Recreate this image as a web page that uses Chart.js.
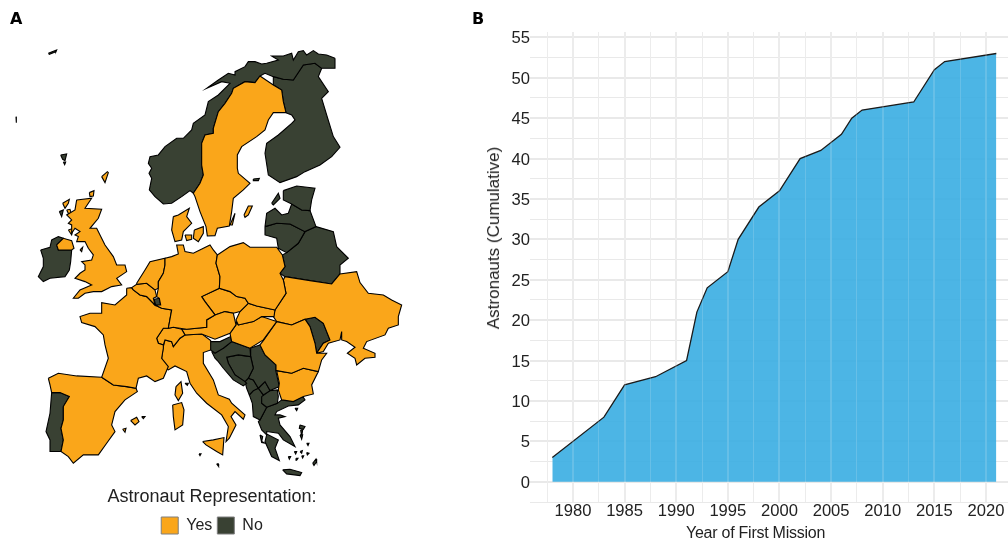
<!DOCTYPE html>
<html>
<head>
<meta charset="utf-8">
<script src="https://cdn.jsdelivr.net/npm/chart.js@4"></script>
<style>
  html, body { margin: 0; padding: 0; background: #fff; overflow: hidden; }
  body { width: 1008px; height: 542px; position: relative; font-family: "Liberation Sans", sans-serif; }
  canvas { position: absolute; top: 0; }
  #mapChart { left: 0; }
  #areaChart { left: 470px; }
  .tag { position: absolute; top: 9px; font: bold 16px "DejaVu Sans", sans-serif; color: #000; }
  .axis-title { position: absolute; color: #222; white-space: nowrap; }
  #xTitle { left: 686px; top: 524px; font-size: 16px; letter-spacing: -0.25px; }
  #yTitle { left: 494px; top: 238px; font-size: 17px; transform: translate(-50%, -50%) rotate(-90deg); }
</style>
</head>
<body>
<canvas id="mapChart" width="424" height="544"></canvas>
<canvas id="areaChart" width="538" height="542"></canvas>
<div class="tag" style="left:10px">A</div>
<div class="tag" style="left:472px">B</div>
<div class="axis-title" id="xTitle">Year of First Mission</div>
<div class="axis-title" id="yTitle">Astronauts (Cumulative)</div>
<script>
// cumulative astronauts by year of first mission
const years = [1978, 1983, 1985, 1988, 1991, 1992, 1993, 1995, 1996, 1998, 2000, 2002, 2004, 2006, 2007, 2008, 2013, 2015, 2016, 2021];
const astronauts = [3, 8, 12, 13, 15, 21, 24, 26, 30, 34, 36, 40, 41, 43, 45, 46, 47, 51, 52, 53];
const yearTicks = [1980, 1985, 1990, 1995, 2000, 2005, 2010, 2015, 2020];
const countTicks = [0, 5, 10, 15, 20, 25, 30, 35, 40, 45, 50, 55];

const legendTitle = "Astronaut Representation:";
const legendLabels = ["Yes", "No"];

// country outlines in map units, countries with astronauts
const sweden = [[780,228],[820,255],[845,270],[850,305],[858,338],[820,338],[805,360],[795,390],[770,410],[725,440],[712,465],[712,505],[715,520],[750,550],[730,570],[700,595],[695,635],[688,678],[652,685],[645,707],[622,708],[618,680],[600,635],[585,590],[580,580],[600,550],[610,525],[605,495],[605,430],[615,405],[640,400],[640,385],[655,335],[675,310],[695,280],[700,265],[735,245],[765,248]];
const gotland = [[732,645],[745,618],[757,618],[745,645],[735,652]];
const oland = [[690,675],[705,640],[697,675]];
const poland = [[652,765],[690,740],[730,728],[750,742],[830,742],[847,765],[855,800],[840,820],[850,840],[858,880],[825,930],[770,918],[745,910],[735,895],[710,890],[690,875],[658,865],[660,830],[648,790]];
const germany = [[495,775],[515,770],[535,762],[530,735],[550,735],[555,755],[580,760],[610,745],[630,735],[640,750],[652,765],[648,790],[660,830],[658,865],[605,890],[615,905],[645,945],[620,960],[620,982],[560,988],[520,982],[505,985],[515,930],[485,925],[465,915],[482,915],[478,895],[470,890],[475,865],[475,845],[490,820],[495,795]];
const netherlands = [[410,850],[435,810],[450,785],[495,775],[495,795],[490,820],[475,845],[475,865],[465,870],[440,850],[410,853]];
const belgium = [[395,863],[410,853],[440,850],[465,870],[470,890],[460,895],[465,915],[440,890],[420,885],[400,870]];
const jutland = [[520,650],[535,645],[568,625],[560,650],[575,670],[550,695],[545,720],[525,725],[515,690]];
const zealand = [[583,690],[610,680],[610,700],[595,725],[580,715]];
const fyn = [[555,705],[575,705],[575,718],[560,722]];
const britain = [[230,600],[275,595],[255,625],[305,628],[295,655],[270,685],[290,685],[315,735],[340,770],[350,795],[375,795],[380,815],[350,835],[365,855],[335,860],[305,875],[280,875],[255,880],[235,895],[220,895],[240,870],[275,855],[255,845],[225,835],[240,820],[255,810],[255,795],[245,785],[275,780],[280,765],[265,745],[255,725],[230,725],[235,710],[225,705],[240,695],[225,685],[215,700],[215,675],[205,670],[215,660],[200,645],[225,630]];
const northernIreland = [[170,735],[190,715],[215,722],[222,745],[215,750],[175,750]];
const hebrides = [[188,610],[208,598],[205,610],[195,625]];
const skye = [[200,630],[210,628],[215,645],[205,640]];
const mull = [[205,690],[220,685],[215,705]];
const orkney = [[268,578],[282,572],[280,588],[270,590]];
const shetland = [[305,530],[322,515],[325,518],[315,548]];
const isleOfMan = [[240,750],[248,742],[245,755]];
const lewis = [[178,635],[190,630],[185,650]];
const france = [[380,865],[395,863],[400,870],[420,885],[440,890],[465,915],[485,925],[515,930],[505,985],[490,985],[470,1015],[475,1030],[490,1035],[490,1045],[485,1075],[505,1100],[490,1135],[465,1145],[440,1128],[415,1135],[408,1165],[380,1160],[340,1155],[305,1132],[325,1075],[315,1035],[310,1005],[285,980],[245,968],[240,950],[270,940],[305,940],[305,908],[345,915],[380,885]];
const spain = [[145,1135],[175,1120],[230,1128],[305,1132],[340,1155],[380,1160],[408,1165],[412,1175],[375,1200],[345,1235],[335,1275],[345,1295],[320,1330],[295,1365],[250,1365],[220,1390],[205,1370],[183,1355],[190,1320],[183,1285],[190,1260],[190,1220],[208,1190],[180,1178],[155,1178],[150,1155]];
const mallorca = [[392,1262],[410,1252],[417,1265],[405,1275]];
const menorca = [[425,1250],[435,1250],[430,1256]];
const ibiza = [[368,1288],[378,1285],[375,1297]];
const switzerland = [[505,985],[520,982],[545,988],[555,1005],[540,1015],[520,1040],[515,1025],[495,1020],[490,1035],[475,1030],[470,1015],[490,985]];
const austria = [[645,945],[675,935],[700,940],[708,975],[690,1000],[645,1018],[605,1002],[555,1005],[545,988],[560,988],[620,982],[620,960]];
const czechia = [[605,890],[658,865],[690,875],[710,890],[735,895],[745,910],[720,935],[700,940],[675,935],[645,945],[615,905]];
const slovakia = [[745,910],[770,918],[825,930],[822,950],[785,950],[760,965],[715,975],[708,960],[720,935]];
const hungary = [[708,965],[715,975],[760,965],[785,950],[830,965],[790,1020],[750,1045],[695,1025],[690,1000],[708,975]];
const romania = [[830,965],[875,975],[915,958],[930,980],[945,1030],[950,1060],[980,1060],[965,1080],[955,1115],[910,1105],[875,1120],[830,1112],[828,1095],[795,1065],[780,1035],[790,1022]];
const bulgaria = [[830,1112],[875,1120],[910,1105],[955,1115],[935,1155],[940,1182],[910,1190],[880,1205],[845,1200],[835,1170],[838,1150]];
const ukraine = [[855,830],[930,842],[995,852],[1020,822],[1070,815],[1080,848],[1105,880],[1150,885],[1175,900],[1205,915],[1195,950],[1195,975],[1165,985],[1155,1005],[1100,1025],[1090,1045],[1125,1060],[1125,1072],[1095,1075],[1070,1095],[1065,1075],[1042,1060],[1065,1042],[1040,1025],[1025,1020],[1025,995],[1020,1020],[985,1030],[970,1055],[950,1060],[970,1030],[990,1020],[970,970],[945,952],[915,958],[875,975],[830,965],[820,950],[825,930],[858,880],[850,840]];
const italy = [[490,1040],[495,1020],[515,1025],[520,1040],[540,1015],[555,1005],[605,1002],[632,1022],[632,1050],[610,1058],[610,1090],[640,1140],[655,1185],[688,1198],[695,1210],[735,1245],[730,1258],[705,1235],[693,1250],[708,1275],[688,1315],[678,1325],[685,1280],[665,1245],[620,1210],[590,1180],[570,1150],[560,1115],[525,1098],[505,1110],[490,1100],[485,1075]];
const sardinia = [[518,1215],[545,1208],[552,1230],[548,1275],[525,1290],[520,1250]];
const corsica = [[528,1160],[543,1145],[548,1180],[535,1202],[525,1185]];
const sicily = [[608,1325],[640,1320],[672,1313],[668,1365],[650,1355],[618,1335]];
const malta = [[650,1392],[655,1392],[656,1400]];
const egadi = [[597,1362],[603,1362],[600,1367]];
const elba = [[555,1150],[565,1150],[562,1156]];

// countries without astronauts
const norway = [[1005,175],[980,165],[955,162],[940,152],[920,165],[910,152],[895,155],[880,180],[875,160],[850,168],[815,168],[835,180],[800,190],[785,192],[765,185],[745,185],[735,200],[705,215],[705,225],[685,220],[655,240],[620,265],[665,245],[690,250],[655,285],[625,305],[615,345],[580,370],[575,390],[550,415],[530,415],[495,440],[475,465],[450,470],[445,490],[455,505],[447,520],[455,535],[448,570],[465,590],[490,612],[515,610],[545,590],[570,572],[580,580],[600,550],[610,525],[605,495],[605,430],[615,405],[640,400],[640,385],[655,335],[675,310],[695,280],[700,265],[735,245],[765,248],[780,228],[795,220],[820,230],[850,238],[880,240],[900,210],[910,195],[945,190],[965,205],[1005,205]];
const finland = [[858,338],[850,305],[845,270],[820,255],[820,230],[850,238],[880,240],[900,210],[910,195],[945,190],[965,205],[955,230],[985,275],[965,295],[980,345],[1000,410],[1020,442],[995,470],[960,495],[915,515],[890,530],[840,548],[805,525],[795,460],[800,430],[835,405],[875,370],[885,360],[875,345]];
const aland = [[760,537],[778,535],[775,542],[760,542]];
const estonia = [[850,572],[890,558],[945,565],[935,600],[930,632],[905,630],[875,612],[850,600]];
const saaremaa = [[815,610],[835,580],[840,595],[820,615]];
const latvia = [[795,680],[800,640],[825,625],[845,645],[865,640],[875,612],[905,630],[930,632],[948,680],[915,695],[870,672],[830,670]];
const lithuania = [[795,680],[830,670],[870,672],[915,695],[895,730],[860,758],[835,745],[830,715],[795,705]];
const belarus = [[948,680],[1000,695],[1010,740],[1045,775],[1020,795],[1020,822],[995,852],[930,842],[855,830],[840,820],[855,800],[847,765],[860,758],[895,730],[915,695]];
const ireland = [[122,750],[150,742],[155,720],[175,710],[190,715],[170,735],[175,750],[215,750],[212,785],[208,810],[195,830],[150,835],[130,845],[115,830],[130,800],[130,775]];
const faroe = [[182,465],[200,462],[195,482],[188,478]];
const faroeSouth = [[190,486],[197,486],[194,494]];
const jan = [[145,160],[170,150],[168,155],[148,163]];
const rockall = [[48,350],[50,350],[50,368],[48,368]];
const portugal = [[155,1178],[180,1178],[208,1190],[190,1220],[190,1260],[183,1285],[190,1320],[183,1355],[150,1355],[150,1320],[138,1295],[150,1240]];
const luxembourg = [[462,898],[478,895],[482,915],[468,918]];
const zeeland = [[415,845],[425,838],[435,850],[423,855]];
const slovenia = [[630,1025],[660,1025],[692,1010],[695,1025],[670,1045],[645,1060],[632,1050]];
const croatia = [[635,1055],[670,1045],[695,1025],[750,1045],[752,1070],[715,1065],[680,1072],[685,1090],[705,1125],[735,1145],[740,1150],[730,1158],[700,1140],[670,1105],[655,1085],[645,1075]];
const bosnia = [[680,1072],[715,1065],[752,1070],[760,1105],[745,1135],[735,1145],[705,1125],[685,1090]];
const serbia = [[750,1045],[780,1035],[795,1065],[828,1095],[828,1115],[838,1160],[810,1172],[795,1145],[775,1165],[760,1140],[745,1135],[760,1105],[752,1070]];
const montenegro = [[735,1145],[745,1135],[760,1140],[775,1165],[760,1172],[748,1185],[740,1165]];
const kosovo = [[775,1165],[795,1145],[810,1172],[790,1185]];
const macedonia = [[785,1190],[810,1172],[832,1170],[835,1190],[832,1210],[800,1222],[785,1210]];
const albania = [[760,1172],[775,1165],[790,1185],[785,1210],[800,1222],[780,1260],[760,1250],[757,1210],[748,1185]];
const greece = [[780,1260],[800,1222],[832,1210],[845,1200],[910,1192],[915,1200],[895,1215],[865,1218],[830,1235],[825,1245],[840,1245],[855,1250],[835,1255],[840,1275],[870,1310],[885,1340],[850,1320],[835,1300],[800,1295],[800,1302],[835,1320],[825,1345],[838,1382],[815,1370],[795,1325],[800,1305],[785,1290],[775,1265]];
const moldova = [[915,958],[945,952],[970,970],[990,1020],[970,1030],[950,1060],[945,1030],[930,980]];
const crete = [[848,1410],[870,1408],[905,1418],[900,1427],[860,1422]];
const lesbos = [[900,1275],[915,1280],[910,1288],[898,1285]];
const chios = [[900,1305],[908,1305],[905,1318]];
const rhodes = [[938,1390],[948,1377],[950,1385],[942,1397]];
const kefalonia = [[780,1305],[788,1310],[785,1325],[795,1330],[785,1328]];
const thasos = [[885,1225],[893,1225],[890,1232]];
const cyclades1 = [[920,1330],[927,1330],[924,1337]];
const cyclades2 = [[883,1355],[890,1355],[887,1362]];
const cyclades3 = [[900,1355],[907,1352],[905,1360]];
const cyclades4 = [[920,1358],[927,1360],[922,1365]];
const cyclades5 = [[865,1370],[872,1370],[868,1378]];
const cyclades6 = [[888,1375],[894,1375],[890,1381]];
const cyclades7 = [[905,1368],[911,1368],[908,1374]];
const euboeaIslet = [[902,1290],[908,1290],[905,1310]];

const yesShapes = [sweden, gotland, oland, poland, germany, netherlands, belgium, jutland, zealand, fyn, britain, northernIreland, hebrides, skye, mull, orkney, shetland, isleOfMan, france, spain, mallorca, menorca, ibiza, switzerland, austria, czechia, slovakia, hungary, romania, bulgaria, ukraine, italy, sardinia, corsica, sicily, malta, egadi, elba];
const noShapes = [norway, finland, aland, estonia, saaremaa, latvia, lithuania, belarus, ireland, faroe, faroeSouth, jan, rockall, lewis, portugal, luxembourg, zeeland, slovenia, croatia, bosnia, serbia, montenegro, kosovo, macedonia, albania, greece, moldova, crete, lesbos, chios, rhodes, kefalonia, thasos, cyclades1, cyclades2, cyclades3, cyclades4, cyclades5, cyclades6, cyclades7, euboeaIslet];

const YES_COLOR = "#FAA61A";
const NO_COLOR = "#394133";
const GRID_COLOR = "#e9e9e9";
const TEXT_COLOR = "#222";

function shapeDataset(shape, color) {
  return {
    data: shape.concat([shape[0]]).map(([x, y]) => ({ x, y })),
    showLine: true,
    fill: "shape",
    backgroundColor: color,
    borderColor: "#000",
    borderWidth: 1.1,
    tension: 0,
    pointRadius: 0,
    clip: false,
  };
}

new Chart(document.getElementById("mapChart"), {
  type: "scatter",
  data: {
    datasets: yesShapes.map((s) => shapeDataset(s, YES_COLOR)).concat(noShapes.map((s) => shapeDataset(s, NO_COLOR))),
  },
  options: {
    responsive: false,
    animation: false,
    events: [],
    layout: { padding: 0 },
    scales: {
      x: { display: false, min: 0, max: 1272 },
      y: { display: false, reverse: true, min: 0, max: 1465.5 },
    },
    plugins: {
      tooltip: { enabled: false },
      legend: {
        position: "bottom",
        onClick: null,
        title: {
          display: true,
          text: legendTitle,
          color: TEXT_COLOR,
          font: { family: "Liberation Sans", size: 18 },
          padding: { top: 0, bottom: 2 },
        },
        labels: {
          boxWidth: 17,
          boxHeight: 17,
          padding: 5,
          color: TEXT_COLOR,
          font: { family: "Liberation Sans", size: 16 },
          generateLabels: () =>
            legendLabels.map((text, i) => ({
              text,
              fillStyle: i === 0 ? YES_COLOR : NO_COLOR,
              strokeStyle: "#7f7f7f",
              lineWidth: 1,
              hidden: false,
            })),
        },
      },
    },
  },
});

const tickFont = { family: "Liberation Sans", size: 16.6 };

new Chart(document.getElementById("areaChart"), {
  type: "line",
  data: {
    datasets: [
      {
        data: years.map((y, i) => ({ x: y, y: astronauts[i] })),
        fill: "origin",
        backgroundColor: "rgba(57,173,226,0.9)",
        borderColor: "#1a1a1a",
        borderWidth: 1.3,
        tension: 0,
        pointRadius: 0,
      },
    ],
  },
  options: {
    responsive: false,
    animation: false,
    events: [],
    layout: { padding: { top: 32, left: 0, right: 0, bottom: 0 } },
    scales: {
      x: {
        type: "linear",
        min: 1975.84,
        max: 2022.13,
        afterFit: (s) => { s.height = 40; },
        border: { display: false },
        grid: {
          color: GRID_COLOR,
          drawTicks: false,
          lineWidth: (c) => (yearTicks.includes(c.tick.value) ? 2 : 1),
        },
        ticks: {
          stepSize: 2.5,
          includeBounds: false,
          autoSkip: false,
          maxRotation: 0,
          padding: -1,
          color: TEXT_COLOR,
          font: tickFont,
          callback: (v) => (yearTicks.includes(v) ? String(v) : ""),
        },
      },
      // light lines that show on top of the blue area only
      x2: {
        type: "linear",
        axis: "x",
        position: "bottom",
        min: 1975.84,
        max: 2022.13,
        border: { display: false },
        grid: {
          z: 1,
          color: "rgba(255,255,255,0.16)",
          drawTicks: false,
          lineWidth: (c) => (yearTicks.includes(c.tick.value) ? 2 : 1),
        },
        ticks: { display: false, stepSize: 2.5, includeBounds: false, autoSkip: false },
        afterFit: (s) => { s.height = 0; },
      },
      y: {
        min: -2.5,
        max: 55.66,
        afterFit: (s) => { s.width = 60; },
        border: { display: false },
        grid: {
          color: GRID_COLOR,
          drawTicks: false,
          lineWidth: (c) => (countTicks.includes(c.tick.value) ? 2 : 1),
        },
        ticks: {
          stepSize: 2.5,
          includeBounds: false,
          autoSkip: false,
          padding: 0,
          labelOffset: 1.5,
          color: TEXT_COLOR,
          font: tickFont,
          callback: (v) => (countTicks.includes(v) ? String(v) : ""),
        },
      },
    },
    plugins: {
      legend: { display: false },
      tooltip: { enabled: false },
    },
  },
});
</script>
</body>
</html>
